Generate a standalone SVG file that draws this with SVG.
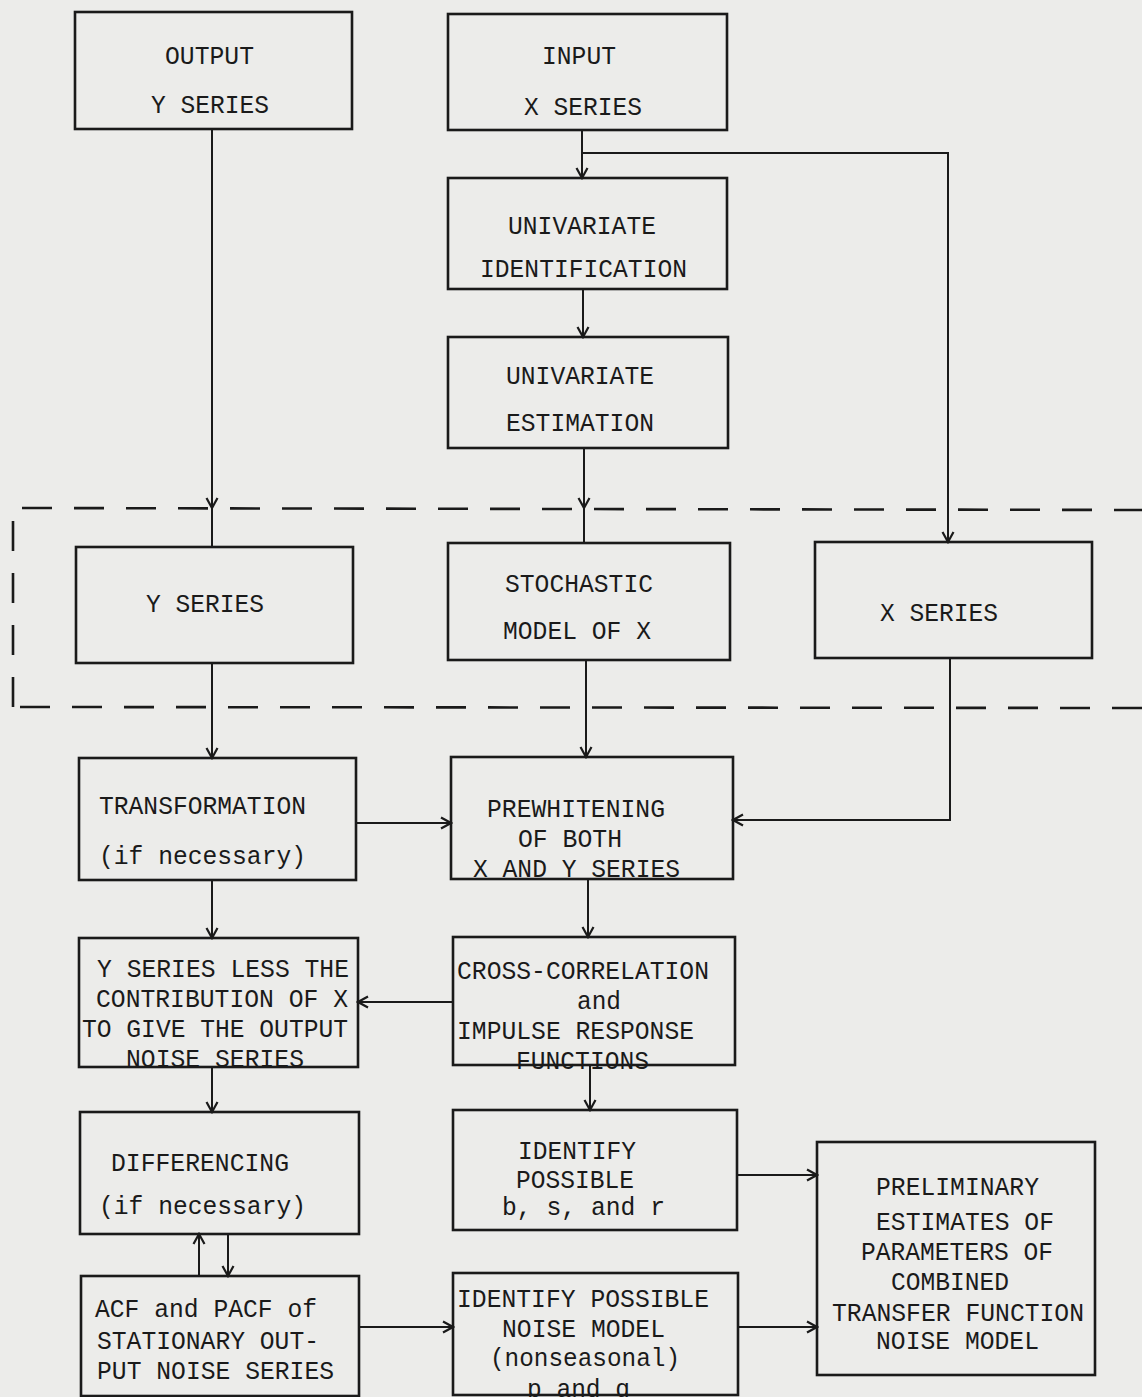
<svg xmlns="http://www.w3.org/2000/svg" width="1142" height="1397" viewBox="0 0 1142 1397">
<defs>
<marker id="arr" markerWidth="14" markerHeight="14" refX="12" refY="7" orient="auto" markerUnits="userSpaceOnUse">
<path d="M2,1.5 L12,7 L2,12.5" fill="none" stroke="#1a1a1a" stroke-width="2.2"/>
</marker>
</defs>
<style>
.box{fill:none;stroke:#1a1a1a;stroke-width:2.6}
.ln{fill:none;stroke:#1a1a1a;stroke-width:2}
.dash{fill:none;stroke:#1a1a1a;stroke-width:2.6;stroke-dasharray:30 22}
text{font-family:"Liberation Mono","DejaVu Sans Mono",monospace;font-size:26px;fill:#1a1a1a}
</style>
<rect x="0" y="0" width="1142" height="1397" fill="#ececea"/>

<g id="dashed-region">
<path class="dash" d="M13,707 L13,508 L1142,510"/>
<path class="dash" d="M20,707 L1142,708"/>
</g>

<g id="connectors">
<path class="ln" d="M212,129 L212,508" marker-end="url(#arr)"/>
<path class="ln" d="M212,508 L212,547"/>
<path class="ln" d="M582,130 L582,178" marker-end="url(#arr)"/>
<path class="ln" d="M582,153 L948,153 L948,542" marker-end="url(#arr)"/>
<path class="ln" d="M583,289 L583,337" marker-end="url(#arr)"/>
<path class="ln" d="M584,448 L584,508" marker-end="url(#arr)"/>
<path class="ln" d="M584,508 L584,543"/>
<path class="ln" d="M212,663 L212,758" marker-end="url(#arr)"/>
<path class="ln" d="M586,660 L586,757" marker-end="url(#arr)"/>
<path class="ln" d="M950,658 L950,820 L733,820" marker-end="url(#arr)"/>
<path class="ln" d="M356,823 L451,823" marker-end="url(#arr)"/>
<path class="ln" d="M212,880 L212,938" marker-end="url(#arr)"/>
<path class="ln" d="M588,879 L588,937" marker-end="url(#arr)"/>
<path class="ln" d="M453,1002 L358,1002" marker-end="url(#arr)"/>
<path class="ln" d="M212,1067 L212,1112" marker-end="url(#arr)"/>
<path class="ln" d="M590,1065 L590,1110" marker-end="url(#arr)"/>
<path class="ln" d="M199,1276 L199,1234" marker-end="url(#arr)"/>
<path class="ln" d="M228,1234 L228,1276" marker-end="url(#arr)"/>
<path class="ln" d="M359,1327 L453,1327" marker-end="url(#arr)"/>
<path class="ln" d="M737,1175 L817,1175" marker-end="url(#arr)"/>
<path class="ln" d="M738,1327 L817,1327" marker-end="url(#arr)"/>
</g>

<g id="output-y">
<rect class="box" x="75" y="12" width="277" height="117"/>
<text x="165" y="63.5" textLength="89" lengthAdjust="spacingAndGlyphs">OUTPUT</text>
<text x="151" y="112.5" textLength="118" lengthAdjust="spacingAndGlyphs">Y SERIES</text>
</g>
<g id="input-x">
<rect class="box" x="448" y="14" width="279" height="116"/>
<text x="542" y="63.5" textLength="74" lengthAdjust="spacingAndGlyphs">INPUT</text>
<text x="524" y="114.5" textLength="118" lengthAdjust="spacingAndGlyphs">X SERIES</text>
</g>
<g id="univ-ident">
<rect class="box" x="448" y="178" width="279" height="111"/>
<text x="508" y="233.5" textLength="148" lengthAdjust="spacingAndGlyphs">UNIVARIATE</text>
<text x="480" y="276.5" textLength="207" lengthAdjust="spacingAndGlyphs">IDENTIFICATION</text>
</g>
<g id="univ-est">
<rect class="box" x="448" y="337" width="280" height="111"/>
<text x="506" y="383.5" textLength="148" lengthAdjust="spacingAndGlyphs">UNIVARIATE</text>
<text x="506" y="430.5" textLength="148" lengthAdjust="spacingAndGlyphs">ESTIMATION</text>
</g>
<g id="y-series">
<rect class="box" x="76" y="547" width="277" height="116"/>
<text x="146" y="611.5" textLength="118" lengthAdjust="spacingAndGlyphs">Y SERIES</text>
</g>
<g id="stochastic">
<rect class="box" x="448" y="543" width="282" height="117"/>
<text x="505" y="591.5" textLength="148" lengthAdjust="spacingAndGlyphs">STOCHASTIC</text>
<text x="503" y="638.5" textLength="148" lengthAdjust="spacingAndGlyphs">MODEL OF X</text>
</g>
<g id="x-series">
<rect class="box" x="815" y="542" width="277" height="116"/>
<text x="880" y="620.5" textLength="118" lengthAdjust="spacingAndGlyphs">X SERIES</text>
</g>
<g id="transformation">
<rect class="box" x="79" y="758" width="277" height="122"/>
<text x="99" y="813.5" textLength="207" lengthAdjust="spacingAndGlyphs">TRANSFORMATION</text>
<text x="99" y="864" textLength="207" lengthAdjust="spacingAndGlyphs">(if necessary)</text>
</g>
<g id="prewhitening">
<rect class="box" x="451" y="757" width="282" height="122"/>
<text x="487" y="816.5" textLength="178" lengthAdjust="spacingAndGlyphs">PREWHITENING</text>
<text x="518" y="846.5" textLength="104" lengthAdjust="spacingAndGlyphs">OF BOTH</text>
<text x="473" y="876.5" textLength="207" lengthAdjust="spacingAndGlyphs">X AND Y SERIES</text>
</g>
<g id="y-less-x">
<rect class="box" x="79" y="938" width="279" height="129"/>
<text x="97" y="976.5" textLength="252" lengthAdjust="spacingAndGlyphs">Y SERIES LESS THE</text>
<text x="96" y="1006.5" textLength="252" lengthAdjust="spacingAndGlyphs">CONTRIBUTION OF X</text>
<text x="82" y="1036.5" textLength="266" lengthAdjust="spacingAndGlyphs">TO GIVE THE OUTPUT</text>
<text x="126" y="1066.5" textLength="178" lengthAdjust="spacingAndGlyphs">NOISE SERIES</text>
</g>
<g id="cross-corr">
<rect class="box" x="453" y="937" width="282" height="128"/>
<text x="457" y="978.5" textLength="252" lengthAdjust="spacingAndGlyphs">CROSS-CORRELATION</text>
<text x="577" y="1009" textLength="44" lengthAdjust="spacingAndGlyphs">and</text>
<text x="457" y="1038.5" textLength="237" lengthAdjust="spacingAndGlyphs">IMPULSE RESPONSE</text>
<text x="516" y="1068.5" textLength="133" lengthAdjust="spacingAndGlyphs">FUNCTIONS</text>
</g>
<g id="differencing">
<rect class="box" x="80" y="1112" width="279" height="122"/>
<text x="111" y="1170.5" textLength="178" lengthAdjust="spacingAndGlyphs">DIFFERENCING</text>
<text x="99" y="1214" textLength="207" lengthAdjust="spacingAndGlyphs">(if necessary)</text>
</g>
<g id="identify-bsr">
<rect class="box" x="453" y="1110" width="284" height="120"/>
<text x="518" y="1158.5" textLength="118" lengthAdjust="spacingAndGlyphs">IDENTIFY</text>
<text x="516" y="1187.5" textLength="118" lengthAdjust="spacingAndGlyphs">POSSIBLE</text>
<text x="502" y="1215" textLength="163" lengthAdjust="spacingAndGlyphs">b, s, and r</text>
</g>
<g id="acf-pacf">
<rect class="box" x="81" y="1276" width="278" height="120"/>
<text x="95" y="1316.5" textLength="222" lengthAdjust="spacingAndGlyphs">ACF and PACF of</text>
<text x="97" y="1348.5" textLength="222" lengthAdjust="spacingAndGlyphs">STATIONARY OUT-</text>
<text x="97" y="1378.5" textLength="237" lengthAdjust="spacingAndGlyphs">PUT NOISE SERIES</text>
</g>
<g id="identify-noise">
<rect class="box" x="453" y="1273" width="285" height="122"/>
<text x="457" y="1306.5" textLength="252" lengthAdjust="spacingAndGlyphs">IDENTIFY POSSIBLE</text>
<text x="502" y="1336.5" textLength="163" lengthAdjust="spacingAndGlyphs">NOISE MODEL</text>
<text x="490" y="1366" textLength="190" lengthAdjust="spacingAndGlyphs">(nonseasonal)</text>
<text x="527" y="1397" textLength="103" lengthAdjust="spacingAndGlyphs">p and q</text>
</g>
<g id="preliminary">
<rect class="box" x="817" y="1142" width="278" height="233"/>
<text x="876" y="1194.5" textLength="163" lengthAdjust="spacingAndGlyphs">PRELIMINARY</text>
<text x="876" y="1229.5" textLength="178" lengthAdjust="spacingAndGlyphs">ESTIMATES OF</text>
<text x="861" y="1259.5" textLength="192" lengthAdjust="spacingAndGlyphs">PARAMETERS OF</text>
<text x="891" y="1289.5" textLength="118" lengthAdjust="spacingAndGlyphs">COMBINED</text>
<text x="832" y="1320.5" textLength="252" lengthAdjust="spacingAndGlyphs">TRANSFER FUNCTION</text>
<text x="876" y="1348.5" textLength="163" lengthAdjust="spacingAndGlyphs">NOISE MODEL</text>
</g>
</svg>
